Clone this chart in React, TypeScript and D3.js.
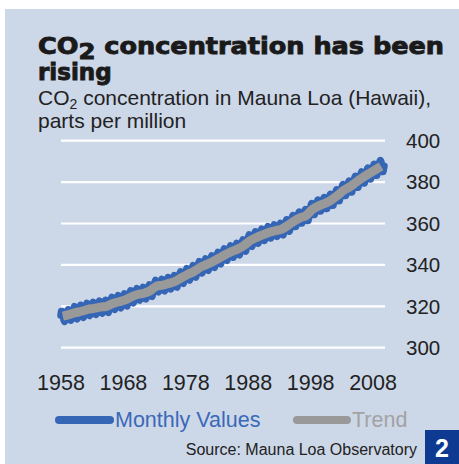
import * as d3 from 'd3';
import React from 'react';

// first point is March 1958, one row per year
const firstYear = 1958;
const firstMonth = 2; // March
const monthlyPpm: number[][] = [
  [315.7, 317.5, 317.5, 317.1, 315.9, 314.9, 313.2, 312.7, 313.3, 314.7],
  [315.6, 316.4, 316.7, 317.7, 318.3, 318.2, 316.5, 314.8, 313.8, 313.3, 314.8, 315.6],
  [316.4, 317.2, 318.0, 319.2, 319.8, 319.3, 317.8, 315.8, 314.2, 314.0, 315.3, 316.5],
  [317.1, 317.9, 318.7, 319.9, 320.5, 320.0, 318.5, 316.5, 314.9, 314.7, 316.0, 317.2],
  [318.0, 318.8, 319.6, 320.8, 321.4, 320.9, 319.4, 317.4, 315.8, 315.6, 316.9, 318.1],
  [318.5, 319.3, 320.1, 321.3, 321.9, 321.4, 319.9, 317.9, 316.3, 316.1, 317.4, 318.6],
  [319.1, 319.9, 320.7, 321.9, 322.5, 322.0, 320.5, 318.5, 316.9, 316.7, 318.0, 319.2],
  [319.5, 320.3, 321.1, 322.3, 322.9, 322.4, 320.9, 318.9, 317.3, 317.1, 318.4, 319.6],
  [320.9, 321.7, 322.5, 323.7, 324.3, 323.8, 322.3, 320.3, 318.7, 318.5, 319.8, 321.0],
  [321.7, 322.5, 323.3, 324.5, 325.1, 324.6, 323.1, 321.1, 319.5, 319.3, 320.6, 321.8],
  [322.6, 323.4, 324.2, 325.4, 326.0, 325.5, 324.0, 322.0, 320.4, 320.2, 321.5, 322.7],
  [324.1, 324.9, 325.7, 326.9, 327.5, 327.0, 325.5, 323.5, 321.9, 321.7, 323.0, 324.2],
  [324.9, 325.7, 326.6, 327.9, 328.5, 328.0, 326.7, 324.7, 323.1, 323.0, 324.4, 325.6],
  [325.5, 326.3, 327.2, 328.5, 329.1, 328.6, 327.3, 325.3, 323.7, 323.6, 325.0, 326.2],
  [326.7, 327.5, 328.4, 329.7, 330.3, 329.8, 328.5, 326.5, 324.9, 324.8, 326.2, 327.4],
  [328.9, 329.7, 330.6, 331.9, 332.5, 332.0, 330.7, 328.7, 327.1, 327.0, 328.4, 329.6],
  [329.4, 330.2, 331.1, 332.4, 333.0, 332.5, 331.2, 329.2, 327.6, 327.5, 328.9, 330.1],
  [330.3, 331.1, 332.0, 333.3, 333.9, 333.4, 332.1, 330.1, 328.5, 328.4, 329.8, 331.0],
  [331.2, 332.0, 332.9, 334.2, 334.8, 334.3, 333.0, 331.0, 329.4, 329.3, 330.7, 331.9],
  [333.0, 333.8, 334.7, 336.0, 336.6, 336.1, 334.8, 332.8, 331.2, 331.1, 332.5, 333.7],
  [334.6, 335.4, 336.3, 337.6, 338.2, 337.7, 336.4, 334.4, 332.8, 332.7, 334.1, 335.3],
  [336.0, 336.8, 337.7, 339.0, 339.6, 339.1, 337.8, 335.8, 334.2, 334.1, 335.5, 336.7],
  [338.0, 338.8, 339.7, 341.0, 341.6, 341.1, 339.8, 337.8, 336.2, 336.1, 337.5, 338.7],
  [339.3, 340.1, 341.0, 342.3, 342.9, 342.4, 341.1, 339.1, 337.5, 337.4, 338.8, 340.0],
  [340.7, 341.5, 342.4, 343.7, 344.3, 343.8, 342.5, 340.5, 338.9, 338.8, 340.2, 341.4],
  [342.4, 343.2, 344.1, 345.4, 346.0, 345.5, 344.2, 342.2, 340.6, 340.5, 341.9, 343.1],
  [344.1, 344.9, 345.8, 347.1, 347.7, 347.2, 345.9, 343.9, 342.3, 342.2, 343.6, 344.8],
  [345.6, 346.4, 347.3, 348.6, 349.2, 348.7, 347.4, 345.4, 343.8, 343.7, 345.1, 346.3],
  [346.8, 347.6, 348.5, 349.8, 350.4, 349.9, 348.6, 346.6, 345.0, 344.9, 346.3, 347.5],
  [348.5, 349.3, 350.2, 351.5, 352.1, 351.6, 350.3, 348.3, 346.7, 346.6, 348.0, 349.2],
  [350.9, 351.7, 352.6, 353.9, 354.5, 354.0, 352.7, 350.7, 349.1, 349.0, 350.4, 351.6],
  [352.4, 353.2, 354.1, 355.4, 356.0, 355.5, 354.2, 352.2, 350.6, 350.5, 351.9, 353.1],
  [353.7, 354.5, 355.4, 356.7, 357.3, 356.8, 355.5, 353.5, 351.9, 351.8, 353.2, 354.4],
  [354.9, 355.7, 356.6, 357.9, 358.5, 358.0, 356.7, 354.7, 353.1, 353.0, 354.4, 355.6],
  [355.7, 356.5, 357.4, 358.7, 359.3, 358.8, 357.5, 355.5, 353.9, 353.8, 355.2, 356.4],
  [356.4, 357.2, 358.1, 359.4, 360.0, 359.5, 358.2, 356.2, 354.6, 354.5, 355.9, 357.1],
  [358.2, 359.0, 359.9, 361.2, 361.8, 361.3, 360.0, 358.0, 356.4, 356.3, 357.7, 358.9],
  [360.0, 360.8, 361.7, 363.1, 363.8, 363.3, 362.0, 360.0, 358.5, 358.5, 359.8, 361.1],
  [361.7, 362.5, 363.4, 364.8, 365.5, 365.0, 363.7, 361.7, 360.2, 360.2, 361.5, 362.8],
  [362.9, 363.7, 364.6, 366.0, 366.7, 366.2, 364.9, 362.9, 361.4, 361.4, 362.7, 364.0],
  [365.8, 366.6, 367.5, 368.9, 369.6, 369.1, 367.8, 365.8, 364.3, 364.3, 365.6, 366.9],
  [367.5, 368.3, 369.2, 370.6, 371.3, 370.8, 369.5, 367.5, 366.0, 366.0, 367.3, 368.6],
  [368.7, 369.5, 370.4, 371.8, 372.5, 372.0, 370.7, 368.7, 367.2, 367.2, 368.5, 369.8],
  [370.3, 371.1, 372.0, 373.4, 374.1, 373.6, 372.3, 370.3, 368.8, 368.8, 370.1, 371.4],
  [372.5, 373.3, 374.2, 375.6, 376.3, 375.8, 374.5, 372.5, 371.0, 371.0, 372.3, 373.6],
  [375.0, 375.8, 376.7, 378.1, 378.8, 378.3, 377.0, 375.0, 373.5, 373.5, 374.8, 376.1],
  [376.7, 377.5, 378.4, 379.8, 380.5, 380.0, 378.7, 376.7, 375.2, 375.2, 376.5, 377.8],
  [379.0, 379.8, 380.7, 382.1, 382.8, 382.3, 381.0, 379.0, 377.5, 377.5, 378.8, 380.1],
  [381.1, 381.9, 382.8, 384.2, 384.9, 384.4, 383.1, 381.1, 379.6, 379.6, 380.9, 382.2],
  [383.0, 383.8, 384.7, 386.1, 386.8, 386.3, 385.0, 383.0, 381.5, 381.5, 382.8, 384.1],
  [384.8, 385.6, 386.5, 387.9, 388.6, 388.1, 386.8, 384.8, 383.3, 383.3, 384.6, 385.9],
  [386.6, 387.4, 388.3, 389.7, 390.4, 389.9, 388.6, 386.6, 385.1, 385.1, 386.4, 387.7],
];

// annual trend, 1958..2009
const trendPpm = [
  315.3, 316.0, 316.9, 317.6, 318.5, 319.0, 319.6, 320.0, 321.4, 322.2,
  323.1, 324.6, 325.7, 326.3, 327.5, 329.7, 330.2, 331.1, 332.0, 333.8,
  335.4, 336.8, 338.8, 340.1, 341.5, 343.2, 344.9, 346.4, 347.6, 349.3,
  351.7, 353.2, 354.5, 355.7, 356.5, 357.2, 359.0, 361.0, 362.7, 363.9,
  366.8, 368.5, 369.7, 371.3, 373.5, 376.0, 377.7, 380.0, 382.1, 384.0,
  385.8, 387.6,
];

const yTicks = [300, 320, 340, 360, 380, 400];
const xTickYears = [1958, 1968, 1978, 1988, 1998, 2008];

const W = 459;
const H = 464;
const BG = '#ccd7e8';
const BLUE = '#3565b5';
const GREY = '#999999';
const FONT = 'Liberation Sans, Arial, sans-serif';
const TITLE_FONT = 'DejaVu Sans, sans-serif';

export default function App() {
  // month index: 0 = March 1958
  const monthly = monthlyPpm.flat().map((v, i) => ({ i, v }));
  const trend = trendPpm.map((v, k) => ({ i: k * 12 + 6 - firstMonth - 0.5, v }));
  const lastIdx = monthly.length - 1;

  const x = d3.scaleLinear().domain([0, lastIdx]).range([61, 384]);
  const y = d3.scaleLinear().domain([300, 400]).range([347.7, 140.7]);

  const line = d3.line<{ i: number; v: number }>()
    .x(d => x(d.i))
    .y(d => y(d.v));
  const trendLine = d3.line<{ i: number; v: number }>()
    .x(d => x(d.i))
    .y(d => y(d.v))
    .curve(d3.curveMonotoneX);

  return (
    <svg width={W} height={H} style={{ position: 'absolute', left: 0, top: 0 }} fontFamily={FONT}>
      <rect x={0} y={0} width={W} height={H} fill="#fff" />
      <rect x={5} y={9} width={W - 5} height={H - 9} fill={BG} />

      {/* title */}
      <text x={38} y={54} fontSize={23} fontWeight={900} fontFamily={TITLE_FONT} fill="#1a1a1a"
        stroke="#1a1a1a" strokeWidth={0.9} textLength={406} lengthAdjust="spacingAndGlyphs">
        CO<tspan dy={5} fontSize={22}>2</tspan><tspan dy={-5}> concentration has been</tspan>
      </text>
      <text x={38} y={80} fontSize={23} fontWeight={900} fontFamily={TITLE_FONT} fill="#1a1a1a"
        stroke="#1a1a1a" strokeWidth={0.9}>
        rising
      </text>
      <text x={38} y={105} fontSize={21} fill="#222">
        CO<tspan dy={4} fontSize={14}>2</tspan><tspan dy={-4}> concentration in Mauna Loa (Hawaii),</tspan>
      </text>
      <text x={38} y={128} fontSize={21} fill="#222">parts per million</text>

      {/* grid */}
      {yTicks.map(t => (
        <g key={t}>
          <line x1={61} x2={385} y1={y(t)} y2={y(t)} stroke="#fff" strokeWidth={2.2} />
          <text x={406} y={y(t)} dy="0.36em" fontSize={20.5} fill="#222">{t}</text>
        </g>
      ))}

      {/* series */}
      <path d={line(monthly) ?? ''} fill="none" stroke={BLUE} strokeWidth={7.5} strokeLinejoin="round" strokeLinecap="round" />
      <path d={trendLine(trend) ?? ''} fill="none" stroke={GREY} strokeWidth={9} strokeLinejoin="round" strokeLinecap="butt" />

      {/* x labels */}
      {xTickYears.map(yr => (
        <text key={yr} x={x((yr - firstYear) * 12)} y={390} fontSize={21.5} textAnchor="middle" fill="#222">{yr}</text>
      ))}

      {/* legend */}
      <line x1={59} x2={110} y1={420} y2={420} stroke={BLUE} strokeWidth={8} strokeLinecap="round" />
      <text x={115} y={427} fontSize={21.5} fill="#3a69b8">Monthly Values</text>
      <line x1={297} x2={347} y1={420} y2={420} stroke={GREY} strokeWidth={8} strokeLinecap="round" />
      <text x={352} y={427} fontSize={21.5} fill="#a3a3a3">Trend</text>

      {/* footer */}
      <text x={417} y={455} fontSize={16} textAnchor="end" fill="#222">Source: Mauna Loa Observatory</text>
      <rect x={425} y={430} width={34} height={34} fill="#0f3a92" />
      <text x={442} y={457} fontSize={25} fontWeight={700} textAnchor="middle" fill="#fff">2</text>
    </svg>
  );
}
